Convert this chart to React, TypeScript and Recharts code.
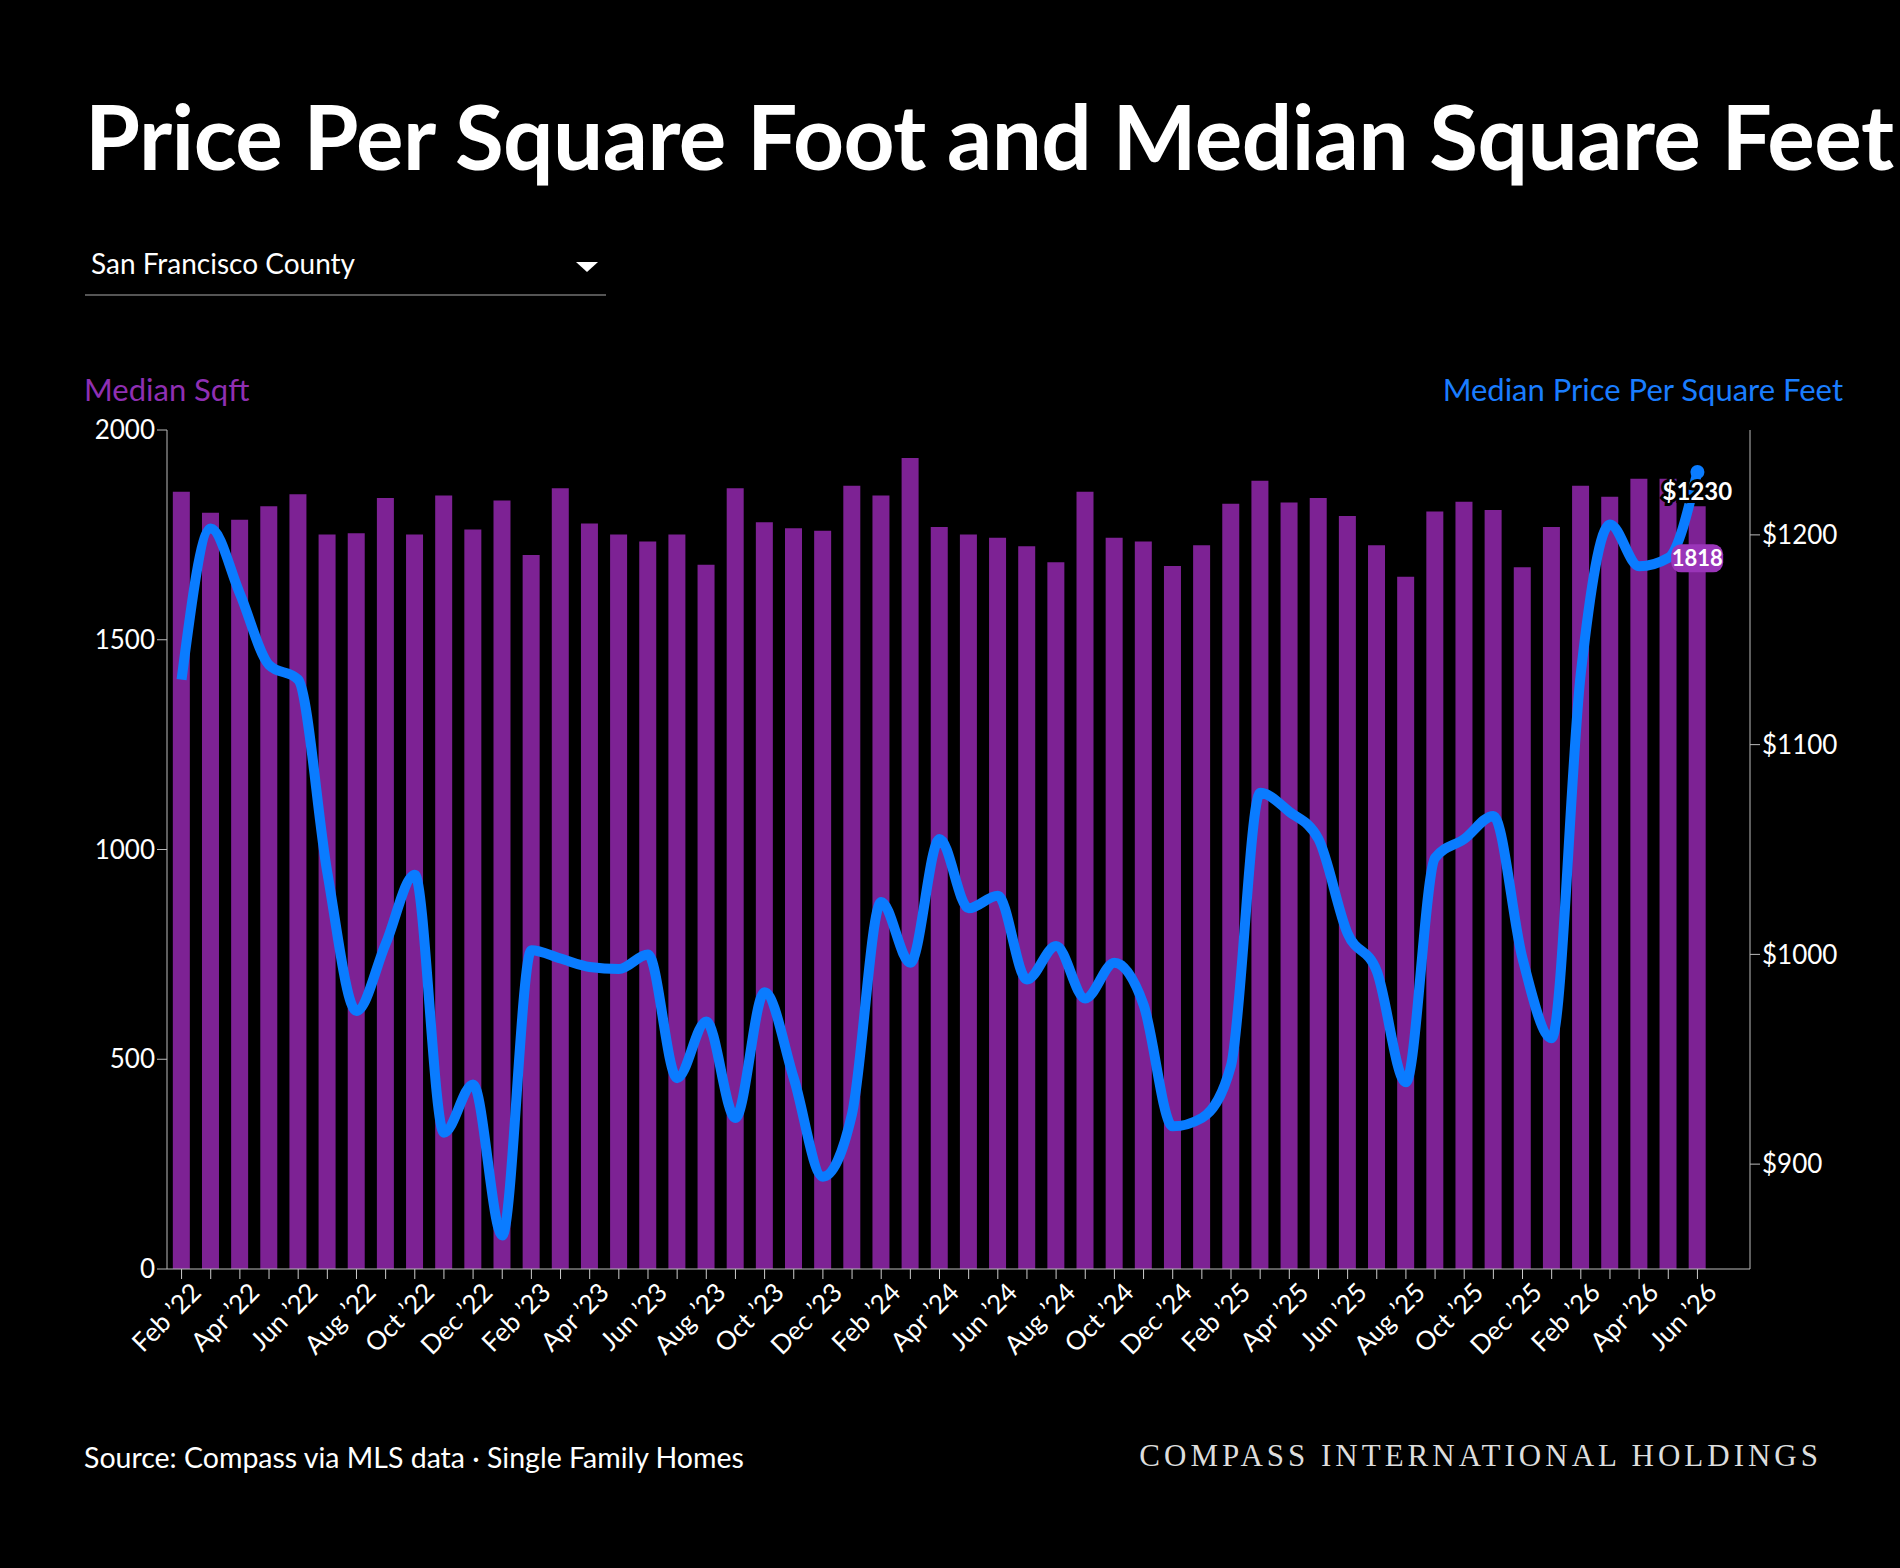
import { ComposedChart, Bar, Line, XAxis, YAxis } from "recharts"

const months = [
  "Feb ’22", "Mar ’22", "Apr ’22", "May ’22", "Jun ’22", "Jul ’22", "Aug ’22", "Sep ’22", "Oct ’22", "Nov ’22", "Dec ’22",
  "Jan ’23", "Feb ’23", "Mar ’23", "Apr ’23", "May ’23", "Jun ’23", "Jul ’23", "Aug ’23", "Sep ’23", "Oct ’23", "Nov ’23", "Dec ’23",
  "Jan ’24", "Feb ’24", "Mar ’24", "Apr ’24", "May ’24", "Jun ’24", "Jul ’24", "Aug ’24", "Sep ’24", "Oct ’24", "Nov ’24", "Dec ’24",
  "Jan ’25", "Feb ’25", "Mar ’25", "Apr ’25", "May ’25", "Jun ’25", "Jul ’25", "Aug ’25", "Sep ’25", "Oct ’25", "Nov ’25", "Dec ’25",
  "Jan ’26", "Feb ’26", "Mar ’26", "Apr ’26", "May ’26", "Jun ’26",
]

const medianSqft = [
  1853, 1803, 1786, 1818, 1847, 1751, 1754, 1838, 1751, 1844, 1763,
  1832, 1702, 1861, 1777, 1751, 1734, 1751, 1679, 1861, 1780, 1766, 1760,
  1867, 1844, 1933, 1769, 1751, 1743, 1723, 1685, 1853, 1743, 1734, 1676,
  1725, 1824, 1879, 1827, 1838, 1795, 1725, 1650, 1806, 1829, 1809, 1673,
  1769, 1867, 1841, 1884, 1884, 1818,
]

const pricePerSqft = [
  1131, 1203, 1172, 1138, 1131, 1039, 973, 1005, 1038, 915, 938,
  866, 1002, 998, 994, 993, 1000, 941, 968, 922, 982, 941, 894,
  924, 1025, 996, 1055, 1022, 1028, 988, 1004, 979, 996, 976, 918,
  922, 947, 1077, 1068, 1055, 1010, 992, 939, 1046, 1055, 1066, 998,
  960, 1134, 1205, 1185, 1189, 1230,
]

const leftTicks = [0, 500, 1000, 1500, 2000]
const rightTicks = [900, 1000, 1100, 1200]

const data = months.map((m, i) => ({ month: m, sqft: medianSqft[i], price: pricePerSqft[i] }))
const last = data.length - 1

const font = "Lato, 'Noto Sans', sans-serif"

// eslint-disable-next-line @typescript-eslint/no-explicit-any
function PriceLabel({ x, y, index }: any) {
  if (index !== last) return null
  return (
    <text x={x} y={y + 28} textAnchor="middle" fill="#fff" fontSize={24} fontWeight={700}
      stroke="#000" strokeWidth={6} paintOrder="stroke" fontFamily={font}>
      ${pricePerSqft[last]}
    </text>
  )
}

// eslint-disable-next-line @typescript-eslint/no-explicit-any
function SqftLabel({ x, y, width, index }: any) {
  if (index !== last) return null
  const cx = x + width / 2
  return (
    <g>
      <rect x={cx - 26} y={y + 38} width={52} height={28} rx={10} fill="#9a35b8" />
      <text x={cx} y={y + 60} textAnchor="middle" fill="#fff" fontSize={22} fontWeight={700} fontFamily={font}>
        {medianSqft[last]}
      </text>
    </g>
  )
}

export default function App() {
  return (
    <div style={{ position: "absolute", left: 0, top: 0, width: 1900, height: 1568, background: "#000", fontFamily: font, color: "#fff" }}>
      <div style={{ position: "absolute", left: 85, top: 82, fontSize: 89, fontWeight: 700, letterSpacing: -0.5 }}>
        Price Per Square Foot and Median Square Feet
      </div>
      <div style={{ position: "absolute", left: 85, top: 246, width: 521, height: 48, borderBottom: "2px solid #555" }}>
        <span style={{ position: "absolute", left: 6, top: 0, fontSize: 28 }}>San Francisco County</span>
        <span style={{ position: "absolute", right: 8, top: 16, width: 0, height: 0, borderLeft: "11px solid transparent", borderRight: "11px solid transparent", borderTop: "10px solid #fff" }} />
      </div>
      <div style={{ position: "absolute", left: 84, top: 370, fontSize: 31, color: "#8f2fb3" }}>Median Sqft</div>
      <div style={{ position: "absolute", right: 57, top: 370, fontSize: 31, color: "#1a7dff" }}>Median Price Per Square Feet</div>
      <div style={{ position: "absolute", left: 0, top: 0 }}>
        <ComposedChart width={1900} height={1568} data={data} barCategoryGap="20%"
          margin={{ top: 430, left: 97, right: 40, bottom: 199 }}>
          <XAxis dataKey="month" interval={0} height={100} stroke="#bbb" padding={{ left: 0, right: 38 }}
            tickLine={{ stroke: "#ccc" }} tickSize={10}
            tick={{ fill: "#fff", fontSize: 26, fontFamily: font }}
            tickFormatter={(v: string, i: number) => (i % 2 === 0 ? v : "")}
            angle={-45} textAnchor="end" dx={8} />
          <YAxis yAxisId="left" domain={[0, 2000]} ticks={leftTicks} width={70} stroke="#bbb"
            tick={{ fill: "#fff", fontSize: 26, fontFamily: font }} tickSize={10} />
          <YAxis yAxisId="right" orientation="right" domain={[850, 1250]} ticks={rightTicks} width={110} stroke="#bbb"
            tick={{ fill: "#fff", fontSize: 26, fontFamily: font }} tickSize={10}
            tickFormatter={(v: number) => `$${v}`} />
          <Bar yAxisId="left" dataKey="sqft" fill="#7d2294" isAnimationActive={false} label={<SqftLabel />} />
          <Line yAxisId="right" type="monotone" dataKey="price" stroke="#0a7cff" strokeWidth={10}
            dot={(p: any) => p.index === last ? <circle key="d" cx={p.cx} cy={p.cy} r={7} fill="#0a7cff" /> : <g key={p.index} />}
            label={<PriceLabel />} isAnimationActive={false} />
        </ComposedChart>
      </div>
      <div style={{ position: "absolute", left: 84, top: 1440, fontSize: 28.5 }}>Source: Compass via MLS data · Single Family Homes</div>
      <div style={{ position: "absolute", right: 78, top: 1438, fontSize: 31, fontFamily: "'Liberation Serif', serif", letterSpacing: 4, color: "#ddd" }}>
        COMPASS INTERNATIONAL HOLDINGS
      </div>
    </div>
  )
}
